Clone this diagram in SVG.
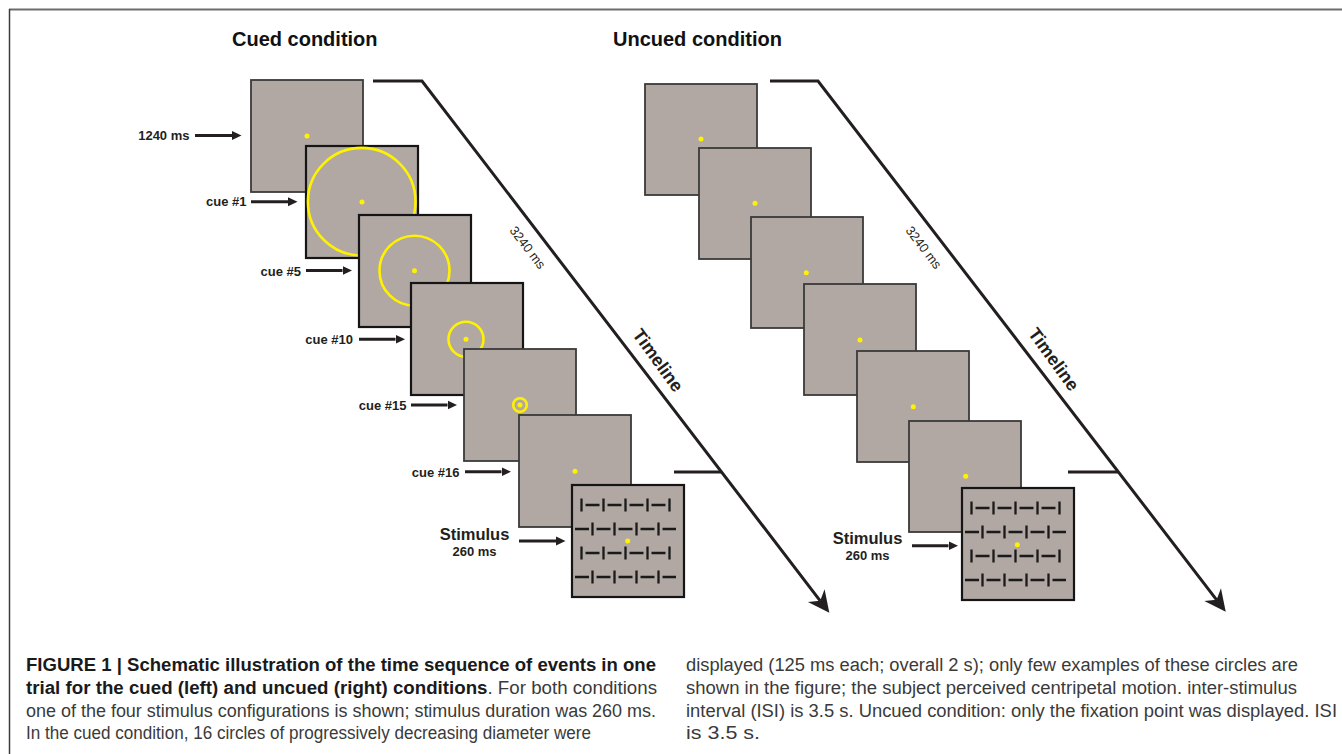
<svg xmlns="http://www.w3.org/2000/svg" xmlns:xlink="http://www.w3.org/1999/xlink" width="1342" height="754" viewBox="0 0 1342 754">
<style>
.scr{fill:#b1a8a4;stroke:#3a3a3a;stroke-width:1.8}
.scrk{fill:#b1a8a4;stroke:#151515;stroke-width:2.2}
.dot{fill:#fff200}
.cue{fill:none;stroke:#fff200;stroke-width:2.6}
.bar{stroke:#1a1a1a;stroke-width:2.3;fill:none}
.lbl{font-family:"Liberation Sans",Arial,sans-serif;font-weight:bold;font-size:13px;fill:#231f20}
.big{font-family:"Liberation Sans",Arial,sans-serif;font-weight:bold;font-size:16.5px;fill:#231f20}
.title{font-family:"Liberation Sans",Arial,sans-serif;font-weight:bold;font-size:20px;fill:#111}
.small{font-family:"Liberation Sans",Arial,sans-serif;font-size:13px;fill:#231f20}
.tl{font-family:"Liberation Sans",Arial,sans-serif;font-weight:bold;font-size:18px;fill:#231f20}
.arr{stroke:#231f20;stroke-width:3;fill:none;marker-end:url(#sa)}
.time{stroke:#231f20;stroke-width:3;fill:none}
.cap{font-family:"Liberation Sans",Arial,sans-serif;font-size:18px;fill:#3a3a3a}
.capb{font-weight:bold;fill:#1a1a1a}
</style>
<defs>
<marker id="sa" markerUnits="userSpaceOnUse" markerWidth="10" markerHeight="10" viewBox="0 -5 10 10" refX="0" refY="0" orient="auto">
<path d="M0,-4.5 L9.5,0 L0,4.5 Z" fill="#231f20"/>
</marker>
<marker id="ba" markerUnits="userSpaceOnUse" markerWidth="24" markerHeight="24" viewBox="-22 -12 24 24" refX="-15" refY="0" orient="auto">
<path d="M0,0 L-21.5,-10.5 L-15,0 L-21.5,10.5 Z" fill="#231f20"/>
</marker>
<g id="pat">
<path class="bar" d="M9.5,13.5v13M31.5,13.5v13M53.5,13.5v13M75.5,13.5v13M97.5,13.5v13M13.5,20h14M35.5,20h14M57.5,20h14M79.5,20h14"/>
<path class="bar" d="M20.5,37.5v13M42.5,37.5v13M64.5,37.5v13M86.5,37.5v13M3,44h14M24.5,44h14M46.5,44h14M68.5,44h14M90.5,44h13.5"/>
<path class="bar" d="M9.5,61.5v13M31.5,61.5v13M53.5,61.5v13M75.5,61.5v13M97.5,61.5v13M13.5,68h14M35.5,68h14M57.5,68h14M79.5,68h14"/>
<path class="bar" d="M20.5,85.5v13M42.5,85.5v13M64.5,85.5v13M86.5,85.5v13M3,92h14M24.5,92h14M46.5,92h14M68.5,92h14M90.5,92h13.5"/>
</g>
</defs>
<rect width="1342" height="754" fill="#fff"/>
<g id="frame">
<line x1="9" y1="9.5" x2="1342" y2="9.5" stroke="#6d6d6d" stroke-width="2"/>
<line x1="9.5" y1="9" x2="9.5" y2="754" stroke="#3c3c3c" stroke-width="1.5"/>
</g>
<text class="title" x="232" y="46">Cued condition</text>
<text class="title" x="613" y="46">Uncued condition</text>

<g id="connectors">
<path class="time" d="M373,81 H422 L820.2,600.8" marker-end="url(#ba)"/>
<path class="time" d="M674,472 H721"/>
<path class="time" d="M770,81 H818 L1216.6,599.8" marker-end="url(#ba)"/>
<path class="time" d="M1068,472 H1118"/>
<line class="arr" x1="195" y1="135.5" x2="232" y2="135.5"/>
<line class="arr" x1="251" y1="201.7" x2="288" y2="201.7"/>
<line class="arr" x1="306" y1="270.5" x2="342.5" y2="270.5"/>
<line class="arr" x1="359" y1="339.3" x2="395.5" y2="339.3"/>
<line class="arr" x1="411" y1="405" x2="447.5" y2="405"/>
<line class="arr" x1="465" y1="471.7" x2="501.5" y2="471.7"/>
<line class="arr" x1="519" y1="541" x2="556" y2="541"/>
<line class="arr" x1="912" y1="545.7" x2="948.5" y2="545.7"/>
</g>

<g id="timeline-labels">
<text class="small" text-anchor="middle" transform="translate(527.7,247.5) rotate(52.6)" dy="4.5">3240 ms</text>
<text class="tl" text-anchor="middle" transform="translate(658.3,360) rotate(54)" dy="6.5">Timeline</text>
<text class="small" text-anchor="middle" transform="translate(923.7,247.5) rotate(52.6)" dy="4.5">3240 ms</text>
<text class="tl" text-anchor="middle" transform="translate(1054,359) rotate(54)" dy="6.5">Timeline</text>
</g>

<g id="labels">
<text class="lbl" x="189.5" y="140" text-anchor="end">1240 ms</text>
<text class="lbl" x="246.5" y="206" text-anchor="end">cue #1</text>
<text class="lbl" x="301" y="275.5" text-anchor="end">cue #5</text>
<text class="lbl" x="353" y="344" text-anchor="end">cue #10</text>
<text class="lbl" x="406.5" y="410" text-anchor="end">cue #15</text>
<text class="lbl" x="459.5" y="476.5" text-anchor="end">cue #16</text>
<text class="big" x="474.5" y="539.5" text-anchor="middle">Stimulus</text>
<text class="lbl" x="474.5" y="555.5" text-anchor="middle">260 ms</text>
<text class="big" x="867.5" y="544" text-anchor="middle">Stimulus</text>
<text class="lbl" x="867.5" y="560" text-anchor="middle">260 ms</text>
</g>

<g id="cued-1"><rect class="scr" x="251" y="80" width="112" height="112"/><circle class="dot" cx="307" cy="136" r="2.5"/></g>
<g id="cued-2"><rect class="scrk" x="306" y="146" width="112" height="112"/><circle class="cue" cx="361.7" cy="201.7" r="53.8"/><circle class="dot" cx="362" cy="202" r="2.5"/></g>
<g id="cued-3"><rect class="scrk" x="359" y="215" width="112" height="112"/><circle class="cue" cx="414.5" cy="270.7" r="35"/><circle class="dot" cx="414.5" cy="270.7" r="2.5"/></g>
<g id="cued-4"><rect class="scrk" x="411" y="283" width="112" height="112"/><circle class="cue" cx="466" cy="339.3" r="17.5"/><circle class="dot" cx="466" cy="339.3" r="2.5"/></g>
<g id="cued-5"><rect class="scr" x="464" y="349" width="112" height="112"/><circle class="cue" cx="520" cy="405" r="6.8"/><circle class="dot" cx="520" cy="405" r="2.5"/></g>
<g id="cued-6"><rect class="scr" x="519" y="415" width="112" height="112"/><circle class="dot" cx="575" cy="471.3" r="2.5"/></g>
<g id="cued-stim"><rect class="scrk" x="572" y="485" width="112" height="112"/><use xlink:href="#pat" transform="translate(572,485)"/><circle class="dot" cx="627.7" cy="541" r="2.5"/></g>

<g id="uncued-1"><rect class="scr" x="645" y="84" width="112" height="111"/><circle class="dot" cx="701" cy="139" r="2.5"/></g>
<g id="uncued-2"><rect class="scr" x="699" y="148" width="112" height="111"/><circle class="dot" cx="755" cy="203.3" r="2.5"/></g>
<g id="uncued-3"><rect class="scr" x="751" y="217" width="112" height="111"/><circle class="dot" cx="806.3" cy="272.7" r="2.5"/></g>
<g id="uncued-4"><rect class="scr" x="804" y="284" width="112" height="111"/><circle class="dot" cx="860" cy="340" r="2.5"/></g>
<g id="uncued-5"><rect class="scr" x="857" y="351" width="112" height="111"/><circle class="dot" cx="913.3" cy="406.7" r="2.5"/></g>
<g id="uncued-6"><rect class="scr" x="909" y="421" width="112" height="111"/><circle class="dot" cx="965.7" cy="476.3" r="2.5"/></g>
<g id="uncued-stim"><rect class="scrk" x="962" y="488" width="112" height="112"/><use xlink:href="#pat" transform="translate(962,488)"/><circle class="dot" cx="1017.3" cy="544.7" r="2.5"/></g>

<g id="caption">
<text class="cap" x="26" y="671" textLength="630" lengthAdjust="spacingAndGlyphs"><tspan class="capb">FIGURE 1 | Schematic illustration of the time sequence of events in one</tspan></text>
<text class="cap" x="26" y="694" textLength="631" lengthAdjust="spacingAndGlyphs"><tspan class="capb">trial for the cued (left) and uncued (right) conditions</tspan>. For both conditions</text>
<text class="cap" x="26" y="716.5" textLength="630" lengthAdjust="spacingAndGlyphs">one of the four stimulus configurations is shown; stimulus duration was 260 ms.</text>
<text class="cap" x="26" y="739" textLength="565" lengthAdjust="spacingAndGlyphs">In the cued condition, 16 circles of progressively decreasing diameter were</text>
<text class="cap" x="686" y="671" textLength="612" lengthAdjust="spacingAndGlyphs">displayed (125 ms each; overall 2 s); only few examples of these circles are</text>
<text class="cap" x="686" y="694" textLength="611" lengthAdjust="spacingAndGlyphs">shown in the figure; the subject perceived centripetal motion. inter-stimulus</text>
<text class="cap" x="686" y="716.5" textLength="651" lengthAdjust="spacingAndGlyphs">interval (ISI) is 3.5 s. Uncued condition: only the fixation point was displayed. ISI</text>
<text class="cap" x="686" y="739" textLength="74" lengthAdjust="spacingAndGlyphs">is 3.5 s.</text>
</g>
</svg>
